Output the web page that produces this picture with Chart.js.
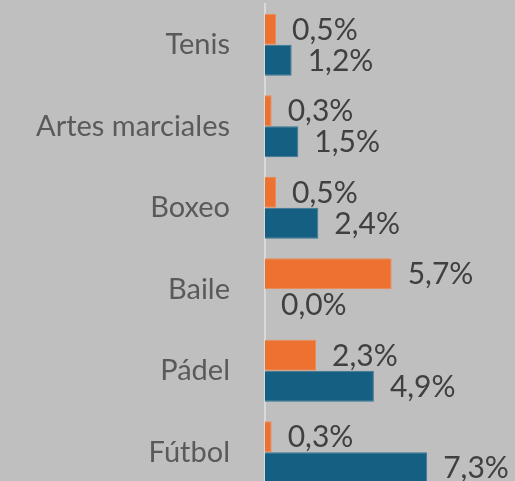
<!DOCTYPE html>
<html>
<head>
<meta charset="utf-8">
<script src="https://cdn.jsdelivr.net/npm/chart.js@4.4.1/dist/chart.umd.min.js"></script>
<style>
  html, body { margin: 0; padding: 0; background: #bfbfbf; overflow: hidden; }
</style>
</head>
<body>
<canvas id="chart" width="515" height="493"></canvas>
<script>
const categories = ['Tenis', 'Artes marciales', 'Boxeo', 'Baile', 'Pádel', 'Fútbol'];
const orangeValues = [0.5, 0.3, 0.5, 5.7, 2.3, 0.3];
const blueValues = [1.2, 1.5, 2.4, 0.0, 4.9, 7.3];
const xMax = 11.25;

// value labels drawn next to each bar end
const valueLabels = {
  id: 'valueLabels',
  afterDatasetsDraw(chart) {
    const ctx = chart.ctx;
    ctx.save();
    ctx.font = '30px Lato, "Liberation Sans", sans-serif';
    ctx.fillStyle = '#404040';
    ctx.textAlign = 'left';
    ctx.textBaseline = 'middle';
    chart.data.datasets.forEach((ds, i) => {
      chart.getDatasetMeta(i).data.forEach((bar, j) => {
        const txt = ds.data[j].toFixed(1).replace('.', ',') + '%';
        ctx.fillText(txt, bar.x + 16, bar.y + 1);
      });
    });
    ctx.restore();
  }
};

new Chart(document.getElementById('chart'), {
  type: 'bar',
  data: {
    labels: categories,
    datasets: [
      { label: 'A', data: orangeValues, backgroundColor: '#ed7231', borderColor: '#f08a55', borderWidth: 1, categoryPercentage: 0.76, barPercentage: 1 },
      { label: 'B', data: blueValues, backgroundColor: '#156082', borderColor: '#3a7896', borderWidth: 1, categoryPercentage: 0.76, barPercentage: 1 }
    ]
  },
  options: {
    indexAxis: 'y',
    responsive: false,
    animation: false,
    layout: { padding: { top: 4, bottom: 0, left: 0, right: 0 } },
    plugins: { legend: { display: false }, tooltip: { enabled: false } },
    scales: {
      x: { display: false, min: 0, max: xMax },
      y: {
        grid: { display: false, drawTicks: false },
        border: { display: true, color: '#d9d9d9', width: 2 },
        ticks: { color: '#5a5a5a', font: { size: 29, family: 'Lato, "Liberation Sans", sans-serif' }, padding: 35 },
        afterFit: (scale) => {
          // fixed axis width, no extra label padding
          scale.width = 265;
          scale.paddingTop = 0;
          scale.paddingBottom = 0;
        }
      }
    }
  },
  plugins: [valueLabels]
});
</script>
</body>
</html>
